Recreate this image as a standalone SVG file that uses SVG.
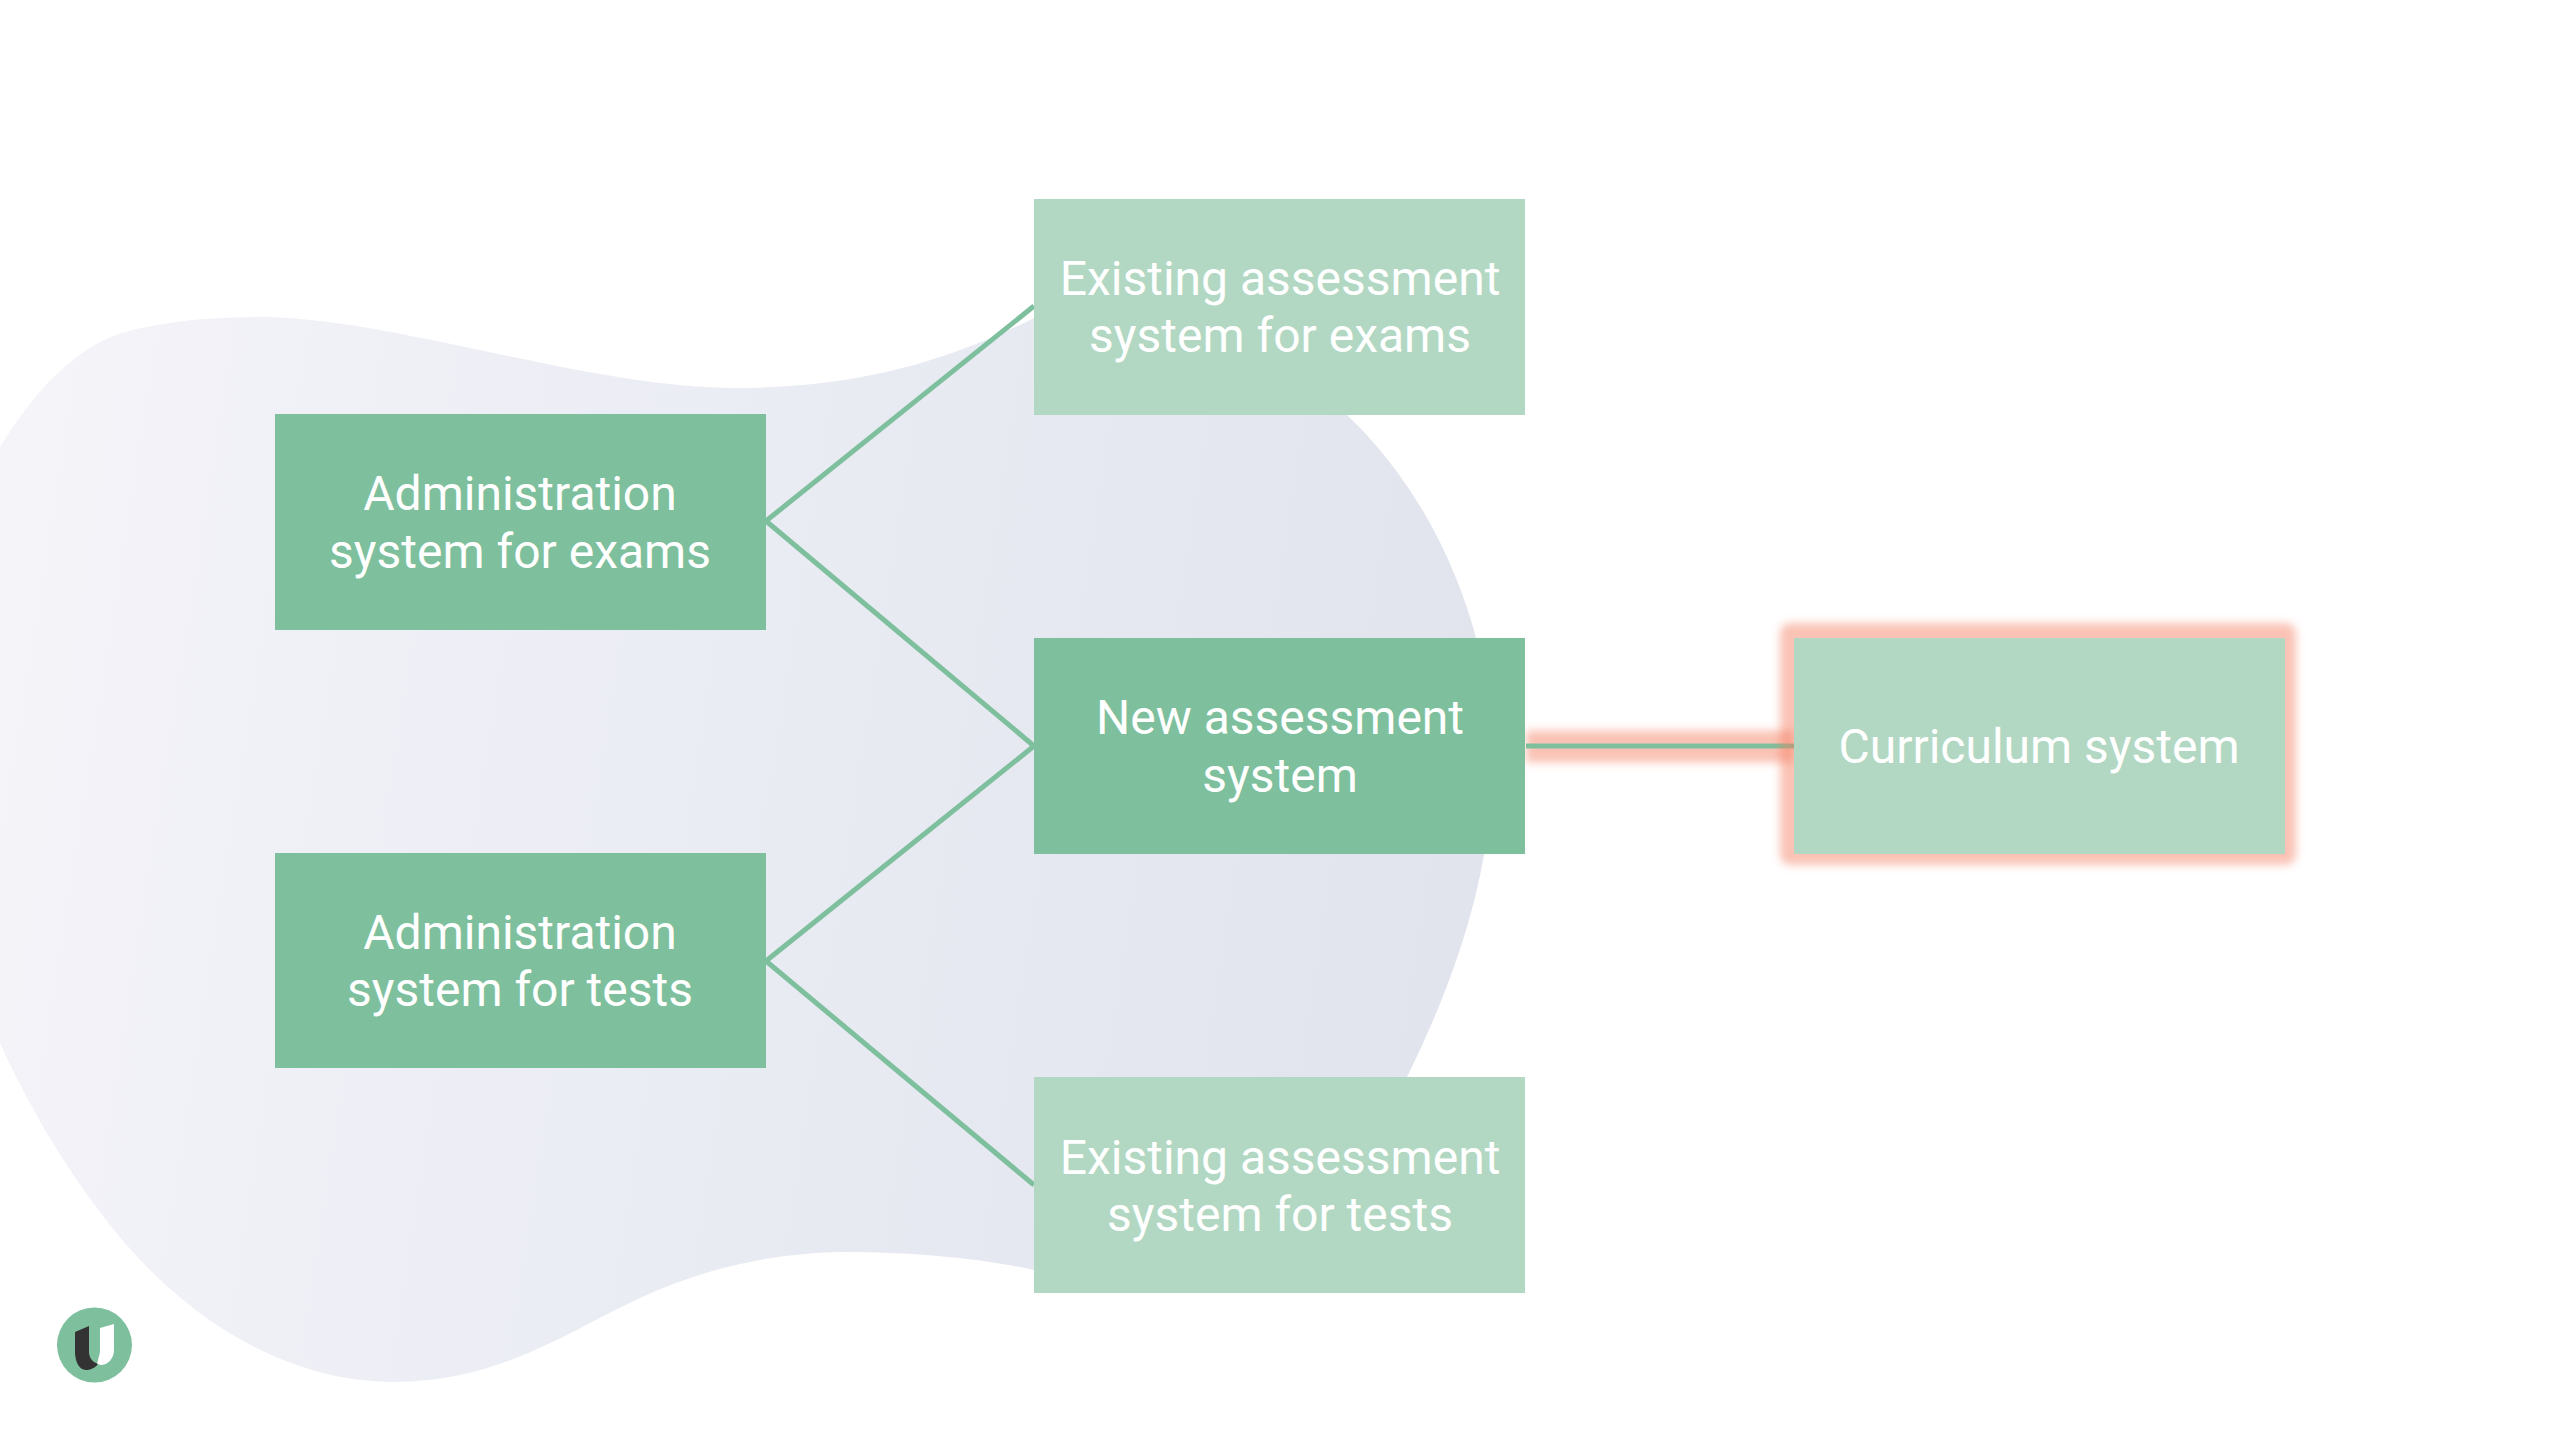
<svg xmlns="http://www.w3.org/2000/svg" width="2560" height="1440" viewBox="0 0 2560 1440">
<style>
.dark{fill:#7ebf9d}.light{fill:#b2d8c3}
text{font-family:Roboto,"Liberation Sans",sans-serif;font-weight:400;font-size:48px;fill:#fff;text-anchor:middle}
.c{fill:none;stroke:#7ebf9d;stroke-width:5}
</style>
<defs>
<linearGradient id="g" gradientUnits="userSpaceOnUse" x1="0" y1="600" x2="1484" y2="832"><stop offset="0" stop-color="#f4f4f9"/><stop offset=".55" stop-color="#e9ebf3"/><stop offset="1" stop-color="#e1e4ed"/></linearGradient>
<filter id="b" filterUnits="userSpaceOnUse" x="1500" y="590" width="840" height="310"><feGaussianBlur stdDeviation="4"/></filter>
</defs>
<rect width="2560" height="1440" fill="#fff"/>
<path id="blob" fill="url(#g)" d="M0 447C28 402 68 350 122 333C165 321 210 317 267 317C400 320 590 388 735 388C860 388 950 360 1034 318L1347 415C1410 475 1455 555 1478 645L1484 855C1470 935 1440 1010 1407 1077L1034 1270C980 1258 910 1252 850 1252C770 1252 700 1270 640 1298C570 1330 500 1382 395 1382C300 1382 215 1335 150 1270C85 1205 30 1110 0 1043Z"/>
<g id="connectors">
<path fill="none" stroke="#f47b5a" stroke-opacity=".45" stroke-width="32" d="M1526 746.500H1794" filter="url(#b)"/>
<path class="c" d="M766 521L1034 306M766 521L1034 746M766 961L1034 746M766 961L1034 1185M1526 746H1794"/>
</g>
<g id="admin-exams"><rect class="dark" x="275" y="414" width="491" height="216"/><text x="520" y="510">Administration</text><text x="520" y="568">system for exams</text></g>
<g id="admin-tests"><rect class="dark" x="275" y="853" width="491" height="215"/><text x="520" y="949">Administration</text><text x="520" y="1006">system for tests</text></g>
<g id="existing-exams"><rect class="light" x="1034" y="199" width="491" height="216"/><text x="1280" y="295">Existing assessment</text><text x="1280" y="352">system for exams</text></g>
<g id="new-assessment"><rect class="dark" x="1034" y="638" width="491" height="216"/><text x="1280" y="734">New assessment</text><text x="1280" y="792">system</text></g>
<g id="existing-tests"><rect class="light" x="1034" y="1077" width="491" height="216"/><text x="1280" y="1174">Existing assessment</text><text x="1280" y="1231">system for tests</text></g>
<g id="curriculum"><rect x="1780" y="623" width="516" height="242" rx="10" fill="#f47b5a" fill-opacity=".45" filter="url(#b)"/><rect class="light" x="1794" y="638" width="491" height="216"/><text x="2039" y="763">Curriculum system</text></g>
<g id="logo"><circle cx="94.500" cy="1345" r="37.500" class="dark"/><path fill="#fff" d="M100 1328L114 1324V1350C114 1359 107 1365 101 1365L97 1364L100 1352Z"/><path fill="#333" d="M75 1332L89 1326V1352C89 1357 92 1362 98 1364C95 1368 90 1370 86 1370C79 1370 75 1361 75 1352Z"/></g>
</svg>
